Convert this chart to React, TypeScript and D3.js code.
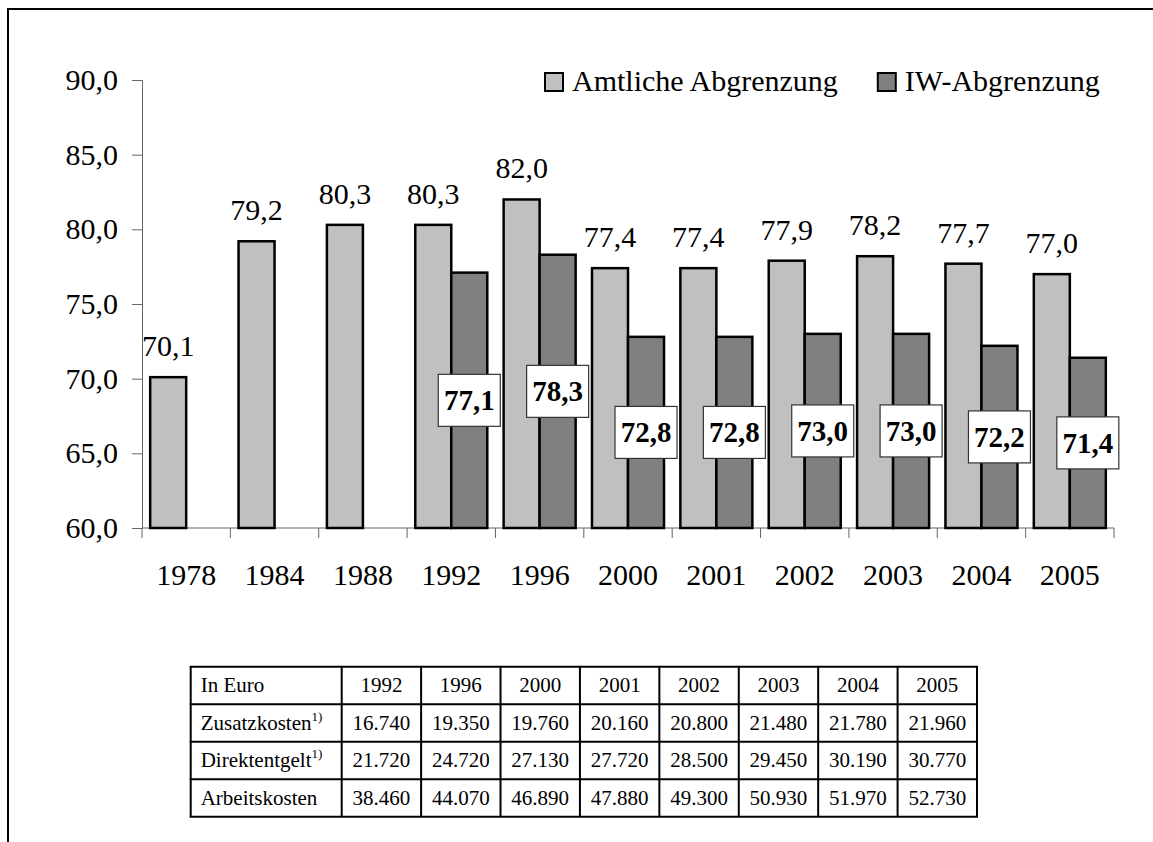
import React, { useEffect, useRef } from 'react'
import * as d3 from 'd3'

// chart data
const years = ['1978', '1984', '1988', '1992', '1996', '2000', '2001', '2002', '2003', '2004', '2005']
const amtlich = [70.1, 79.2, 80.3, 80.3, 82.0, 77.4, 77.4, 77.9, 78.2, 77.7, 77.0]
const iw: (number | null)[] = [null, null, null, 77.1, 78.3, 72.8, 72.8, 73.0, 73.0, 72.2, 71.4]
const seriesNames = ['Amtliche Abgrenzung', 'IW-Abgrenzung']
const yTicks = [60, 65, 70, 75, 80, 85, 90]

// table data
const tableHead = 'In Euro'
const tableYears = ['1992', '1996', '2000', '2001', '2002', '2003', '2004', '2005']
const rowLabels = ['Zusatzkosten', 'Direktentgelt', 'Arbeitskosten']
const rowNotes = ['1)', '1)', '']
const zusatzkosten = [16740, 19350, 19760, 20160, 20800, 21480, 21780, 21960]
const direktentgelt = [21720, 24720, 27130, 27720, 28500, 29450, 30190, 30770]
const arbeitskosten = [38460, 44070, 46890, 47880, 49300, 50930, 51970, 52730]

const W = 1153
const H = 842
const FONT = '"Liberation Serif", "Times New Roman", serif'
const colors = ['#c0c0c0', '#808080']

const de = d3.formatLocale({ decimal: ',', thousands: '.', grouping: [3], currency: ['', ' €'] })
const fmt1 = de.format('.1f')
const fmtInt = de.format(',')

const App = () => {
  const ref = useRef<SVGSVGElement>(null)

  useEffect(() => {
    const svg = d3.select(ref.current)
    svg.selectAll('*').remove()

    // outer frame (runs off the right and bottom edges)
    svg.append('rect')
      .attr('x', 8).attr('y', 9).attr('width', W + 20).attr('height', H + 20)
      .attr('fill', 'none').attr('stroke', '#000').attr('stroke-width', 2)

    const x0 = d3.scaleBand().domain(years).range([142, 1114]).paddingInner(0).paddingOuter(0)
    const x1 = d3.scaleBand().domain(seriesNames).range([0, x0.bandwidth()]).paddingInner(0).paddingOuter(0.227)
    const y = d3.scaleLinear().domain([60, 90]).range([528, 80])

    const g = svg.append('g')

    // y axis
    const yAxis = g.append('g')
      .attr('transform', 'translate(142,0)')
      .call(d3.axisLeft(y).tickValues(yTicks).tickSize(10).tickPadding(14).tickFormat(d => fmt1(d as number)))
    yAxis.select('.domain').attr('stroke', '#666')
    yAxis.selectAll('.tick line').attr('stroke', '#666')
    yAxis.selectAll('.tick text').attr('font-family', FONT).attr('font-size', 30).attr('fill', '#000')

    // x axis with ticks between categories
    const xa = g.append('g')
    xa.append('line').attr('x1', 142).attr('x2', 1114).attr('y1', 528).attr('y2', 528).attr('stroke', '#666')
    const bounds = years.map(d => x0(d) as number).concat([1114])
    xa.selectAll('line.tk').data(bounds).enter().append('line')
      .attr('class', 'tk')
      .attr('x1', d => d).attr('x2', d => d).attr('y1', 528).attr('y2', 538)
      .attr('stroke', '#666')
    xa.selectAll('text').data(years).enter().append('text')
      .attr('x', d => (x0(d) as number) + x0.bandwidth() / 2)
      .attr('y', 585)
      .attr('text-anchor', 'middle')
      .attr('font-family', FONT).attr('font-size', 30)
      .text(d => d)

    const bars = years.map((yr, i) => ({ yr, a: amtlich[i], b: iw[i] }))

    const groups = g.selectAll('g.grp').data(bars).enter().append('g')
      .attr('class', 'grp')
      .attr('transform', d => 'translate(' + x0(d.yr) + ',0)')

    const bw = x1.bandwidth()
    // Amtliche bars
    groups.append('rect')
      .attr('x', x1(seriesNames[0]) as number)
      .attr('y', d => y(d.a))
      .attr('width', bw)
      .attr('height', d => y(60) - y(d.a))
      .attr('fill', colors[0]).attr('stroke', '#000').attr('stroke-width', 2.5)

    // IW bars
    const withIw = groups.filter(d => d.b != null)
    withIw.append('rect')
      .attr('x', x1(seriesNames[1]) as number)
      .attr('y', d => y(d.b as number))
      .attr('width', bw)
      .attr('height', d => y(60) - y(d.b as number))
      .attr('fill', colors[1]).attr('stroke', '#000').attr('stroke-width', 2.5)

    // Amtliche labels above bars
    groups.append('text')
      .attr('x', (x1(seriesNames[0]) as number) + bw / 2)
      .attr('y', d => y(d.a) - 21)
      .attr('text-anchor', 'middle')
      .attr('font-family', FONT).attr('font-size', 30)
      .text(d => fmt1(d.a))

    // IW labels: boxed, centred in the bar
    const boxW = 62
    const boxH = 52
    const lab = withIw.append('g')
      .attr('transform', d => {
        const cx = (x1(seriesNames[1]) as number) + bw / 2
        const cy = (y(d.b as number) + y(60)) / 2
        return 'translate(' + cx + ',' + cy + ')'
      })
    lab.append('rect')
      .attr('x', -boxW / 2).attr('y', -boxH / 2).attr('width', boxW).attr('height', boxH)
      .attr('fill', '#fff').attr('stroke', '#333').attr('stroke-width', 1.2)
    lab.append('text')
      .attr('y', 10)
      .attr('text-anchor', 'middle')
      .attr('font-family', FONT).attr('font-size', 29).attr('font-weight', 'bold')
      .text(d => fmt1(d.b as number))

    // legend
    let lx = 545
    seriesNames.forEach((name, i) => {
      svg.append('rect')
        .attr('x', lx).attr('y', 73).attr('width', 18).attr('height', 18)
        .attr('fill', colors[i]).attr('stroke', '#000').attr('stroke-width', 2)
      const t = svg.append('text')
        .attr('x', lx + 27).attr('y', 91)
        .attr('font-family', FONT).attr('font-size', 30)
        .text(name)
      const len = (t.node() as SVGTextElement).getComputedTextLength()
      lx = lx + 27 + len + 40
    })

    // table
    const tx0 = 190.7
    const tx1 = 341.7
    const tx2 = 977
    const rowsData = [zusatzkosten, direktentgelt, arbeitskosten]
    const cx = d3.scaleBand().domain(tableYears).range([tx1, tx2])
    const ry = d3.scaleBand().domain(['head', ...rowLabels]).range([666.7, 816.7])
    const tg = svg.append('g')
    const rh = ry.bandwidth()

    // header row
    tg.append('text')
      .attr('x', tx0 + 10).attr('y', (ry('head') as number) + rh / 2 + 7)
      .attr('font-family', FONT).attr('font-size', 21)
      .text(tableHead)
    tg.selectAll('text.yr').data(tableYears).enter().append('text')
      .attr('class', 'yr')
      .attr('x', d => (cx(d) as number) + cx.bandwidth() / 2)
      .attr('y', (ry('head') as number) + rh / 2 + 7)
      .attr('text-anchor', 'middle')
      .attr('font-family', FONT).attr('font-size', 21)
      .text(d => d)

    rowLabels.forEach((lbl, r) => {
      const yy = (ry(lbl) as number) + rh / 2 + 7
      const t = tg.append('text')
        .attr('x', tx0 + 10).attr('y', yy)
        .attr('font-family', FONT).attr('font-size', 21)
      t.append('tspan').text(lbl)
      if (rowNotes[r]) {
        t.append('tspan').attr('dy', -9).attr('font-size', 13).text(rowNotes[r])
      }
      tg.selectAll('text.v' + r).data(rowsData[r]).enter().append('text')
        .attr('class', 'v' + r)
        .attr('x', (d, i) => (cx(tableYears[i]) as number) + cx.bandwidth() / 2)
        .attr('y', yy)
        .attr('text-anchor', 'middle')
        .attr('font-family', FONT).attr('font-size', 21)
        .text(d => fmtInt(d))
    })

    // grid lines
    const yTop = ry('head') as number
    const yBot = yTop + rh * 4
    ;[tx0, tx1, ...tableYears.map(d => (cx(d) as number) + cx.bandwidth())].forEach(xx => {
      tg.append('line').attr('x1', xx).attr('x2', xx).attr('y1', yTop).attr('y2', yBot)
        .attr('stroke', '#000').attr('stroke-width', 2)
    })
    ;[0, 1, 2, 3, 4].forEach(k => {
      tg.append('line').attr('x1', tx0 - 1).attr('x2', tx2 + 1)
        .attr('y1', yTop + rh * k).attr('y2', yTop + rh * k)
        .attr('stroke', '#000').attr('stroke-width', 2)
    })
  })

  return (
    <svg
      ref={ref}
      width={W}
      height={H}
      style={{ position: 'absolute', left: 0, top: 0, background: '#fff' }}
    />
  )
}

export default App
